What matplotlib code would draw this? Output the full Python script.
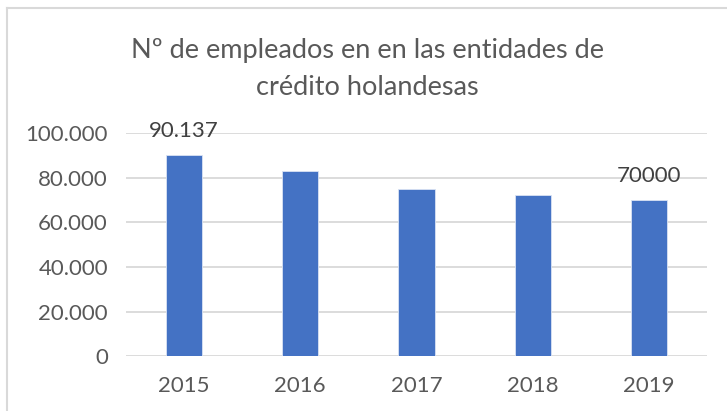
import matplotlib.pyplot as plt
from matplotlib.ticker import FuncFormatter
from matplotlib.lines import Line2D

anios = ['2015', '2016', '2017', '2018', '2019']
empleados = [90137, 83000, 75200, 72200, 70000]
etiquetas = {0: '90.137', 4: '70000'}

plt.rcParams['font.family'] = ['Lato', 'DejaVu Sans']
gris = '#595959'

fig = plt.figure(figsize=(7.27, 4.11), dpi=100)
ax = fig.add_axes([0.1733, 0.1331, 0.7992, 0.5426])

x = range(len(anios))
ax.bar(x, empleados, width=0.31, color='#4472C4', edgecolor='#DAE3F3', linewidth=0.6, zorder=3)
ax.set_xlim(-0.5, len(anios) - 0.5)
ax.set_ylim(0, 100000)
ax.set_yticks(range(0, 100001, 20000))
ax.yaxis.set_major_formatter(FuncFormatter(lambda v, p: '{:,.0f}'.format(v).replace(',', '.')))
ax.set_xticks(list(x))
ax.set_xticklabels(anios)
ax.grid(axis='y', color='#D9D9D9', linewidth=1.3, zorder=0)
for s in ax.spines.values():
    s.set_visible(False)
ax.tick_params(axis='both', length=0, labelsize=16, colors=gris)
ax.tick_params(axis='y', pad=13)
ax.tick_params(axis='x', pad=14)

for i, txt in etiquetas.items():
    ax.annotate(txt, (i, empleados[i]), xytext=(0, 10), textcoords='offset points',
                ha='center', va='bottom', fontsize=16, color='#404040', zorder=4)

fig.text(0.505, 0.878, 'Nº de empleados en en las entidades de', ha='center', va='center',
         fontsize=19.5, color=gris)
fig.text(0.505, 0.788, 'crédito holandesas', ha='center', va='center',
         fontsize=19.5, color=gris)

# borde del grafico
fig.add_artist(Line2D([7 / 727, 7 / 727], [0, 1 - 8 / 411], color='#D9D9D9', linewidth=1.5))
fig.add_artist(Line2D([7 / 727, 1], [1 - 8 / 411, 1 - 8 / 411], color='#D9D9D9', linewidth=1.5))

fig.savefig('out.png', dpi=100)
